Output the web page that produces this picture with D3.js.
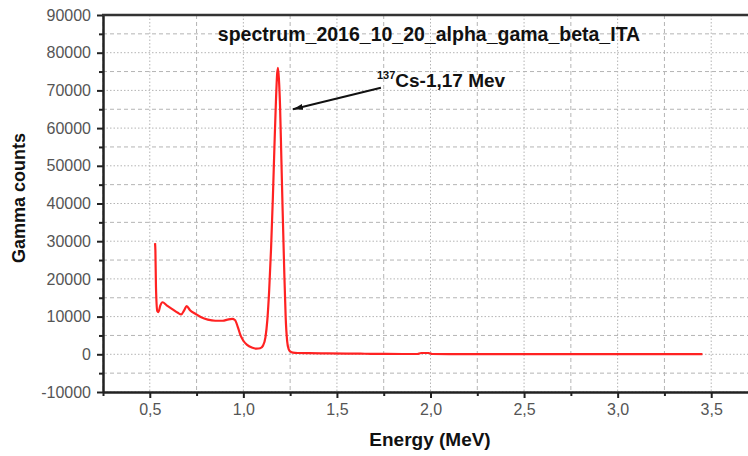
<!DOCTYPE html>
<html>
<head>
<meta charset="utf-8">
<script src="https://cdn.jsdelivr.net/npm/d3@7"></script>
<style>
  body { margin: 0; background: #fff; }
  svg { display: block; font-family: "Liberation Sans", Arial, sans-serif; }
</style>
</head>
<body>
<div id="chart"></div>
<script>
// spectrum (energy in MeV, gamma counts)
const energy = [0.528, 0.530, 0.533, 0.540, 0.546, 0.556, 0.568, 0.590, 0.620, 0.650,
  0.668, 0.685, 0.697, 0.715, 0.745, 0.775, 0.810, 0.850, 0.890, 0.915,
  0.940, 0.955, 0.970, 0.985, 1.000, 1.020, 1.045, 1.070, 1.090, 1.105,
  1.118, 1.128, 1.138, 1.148, 1.158, 1.166, 1.174, 1.180, 1.185, 1.190,
  1.196, 1.203, 1.210, 1.218, 1.226, 1.234, 1.242, 1.252, 1.265, 1.290,
  1.350, 1.450, 1.550, 1.650, 1.750, 1.850, 1.930, 1.950, 1.990, 2.010,
  2.100, 2.300, 2.600, 3.000, 3.453];
const counts = [29500, 27500, 18000, 11500, 11200, 12900, 13800, 13000, 12000, 11000,
  10600, 11800, 12800, 11700, 10700, 9800, 9200, 8900, 8900, 9200,
  9400, 9100, 7300, 5000, 3600, 2500, 1800, 1500, 1600, 2300,
  4500, 9000, 17000, 28000, 42000, 55000, 67000, 74000, 76000, 73000,
  66000, 52000, 38000, 23000, 10000, 3500, 1400, 700, 450, 350,
  300, 250, 200, 150, 100, 80, 80, 350, 350, 80,
  60, 50, 40, 30, 30];

const xMajor = [0.5, 1.0, 1.5, 2.0, 2.5, 3.0, 3.5];
const xMinor = [0.25, 0.75, 1.25, 1.75, 2.25, 2.75, 3.25, 3.75];
const yMajor = [-10000, 0, 10000, 20000, 30000, 40000, 50000, 60000, 70000, 80000, 90000];
const yMinor = [-5000, 5000, 15000, 25000, 35000, 45000, 55000, 65000, 75000, 85000];

const title = 'spectrum_2016_10_20_alpha_gama_beta_ITA';
const peakLabel = { iso: '137', text: 'Cs-1,17 Mev', tip: [1.265, 65000], tail: [1.735, 70700] };

const width = 748, height = 456;
const svg = d3.select('#chart').append('svg')
  .attr('width', width).attr('height', height);

const x = d3.scaleLinear().domain([0.25, 3.75]).range([103, 758]);
const y = d3.scaleLinear().domain([-10000, 90000]).range([392, 15]);

// grid
const grid = svg.append('g').attr('stroke', '#b4b4b4').attr('stroke-width', 1);
grid.selectAll('.gx').data(xMajor.concat(xMinor)).enter().append('line')
  .attr('x1', d => x(d)).attr('x2', d => x(d))
  .attr('y1', y(90000)).attr('y2', y(-10000))
  .attr('stroke-dasharray', (d, i) => i < xMajor.length ? '1.5,2' : '4,3');
grid.selectAll('.gy').data(yMajor.concat(yMinor)).enter().append('line')
  .attr('y1', d => y(d)).attr('y2', d => y(d))
  .attr('x1', x(0.25)).attr('x2', width)
  .attr('stroke-dasharray', (d, i) => i < yMajor.length ? '1.5,2' : '4,3');

// spectrum line
const pts = energy.map((e, i) => [e, counts[i]]);
svg.append('path')
  .datum(pts)
  .attr('fill', 'none')
  .attr('stroke', '#ff2222')
  .attr('stroke-width', 2.2)
  .attr('stroke-linejoin', 'round')
  .attr('d', d3.line().x(d => x(d[0])).y(d => y(d[1])).curve(d3.curveMonotoneX));

// axes
const fmtX = d => d3.format('.1f')(d).replace('.', ',');
svg.append('g')
  .attr('transform', `translate(0,${y(-10000)})`)
  .call(d3.axisBottom(x).tickValues(xMajor).tickFormat(fmtX).tickSize(6).tickSizeOuter(0).tickPadding(6));
svg.append('g')
  .attr('transform', `translate(0,${y(-10000)})`)
  .call(d3.axisBottom(x).tickValues(xMinor).tickFormat('').tickSize(4).tickSizeOuter(0))
  .select('.domain').remove();

svg.append('g')
  .attr('transform', `translate(${x(0.25)},0)`)
  .call(d3.axisLeft(y).tickValues(yMajor).tickFormat(d => String(d)).tickSize(6).tickSizeOuter(0).tickPadding(6));
svg.append('g')
  .attr('transform', `translate(${x(0.25)},0)`)
  .call(d3.axisLeft(y).tickValues(yMinor).tickFormat('').tickSize(4).tickSizeOuter(0))
  .select('.domain').remove();

svg.selectAll('.tick line').attr('stroke', '#222').attr('stroke-width', 2);
svg.selectAll('.domain').attr('stroke', '#222').attr('stroke-width', 2.5);
svg.selectAll('.tick text')
  .attr('fill', '#555')
  .style('font-size', '16px')
  .style('font-family', '"Liberation Sans", Arial, sans-serif');

// top frame line
svg.append('line')
  .attr('x1', x(0.25) - 1).attr('x2', width)
  .attr('y1', y(90000)).attr('y2', y(90000))
  .attr('stroke', '#333').attr('stroke-width', 2.5);

// title
svg.append('text')
  .attr('x', 429).attr('y', 41)
  .attr('text-anchor', 'middle')
  .style('font-size', '19.5px').style('font-weight', 'bold')
  .attr('fill', '#111')
  .text(title);

// axis titles
svg.append('text')
  .attr('x', 430).attr('y', 446)
  .attr('text-anchor', 'middle')
  .style('font-size', '19px').style('font-weight', 'bold')
  .attr('fill', '#111')
  .text('Energy (MeV)');
svg.append('text')
  .attr('transform', 'translate(25,198) rotate(-90)')
  .attr('text-anchor', 'middle')
  .style('font-size', '18px').style('font-weight', 'bold')
  .attr('fill', '#111')
  .text('Gamma counts');

// peak annotation
svg.append('defs').append('marker')
  .attr('id', 'arrow')
  .attr('viewBox', '0 0 10 6')
  .attr('refX', 10).attr('refY', 3)
  .attr('markerWidth', 10).attr('markerHeight', 6)
  .attr('markerUnits', 'userSpaceOnUse')
  .attr('orient', 'auto')
  .append('path').attr('d', 'M0,0L10,3L0,6Z').attr('fill', '#111');

svg.append('line')
  .attr('x1', x(peakLabel.tail[0])).attr('y1', y(peakLabel.tail[1]))
  .attr('x2', x(peakLabel.tip[0])).attr('y2', y(peakLabel.tip[1]))
  .attr('stroke', '#111').attr('stroke-width', 2)
  .attr('marker-end', 'url(#arrow)');

const lab = svg.append('text')
  .attr('x', x(peakLabel.tail[0]) - 4).attr('y', y(peakLabel.tail[1]) - 1)
  .attr('fill', '#111').style('font-weight', 'bold');
lab.append('tspan').attr('dy', -8).style('font-size', '11px').text(peakLabel.iso);
lab.append('tspan').attr('dy', 8).style('font-size', '19px').text(peakLabel.text);
</script>
</body>
</html>
